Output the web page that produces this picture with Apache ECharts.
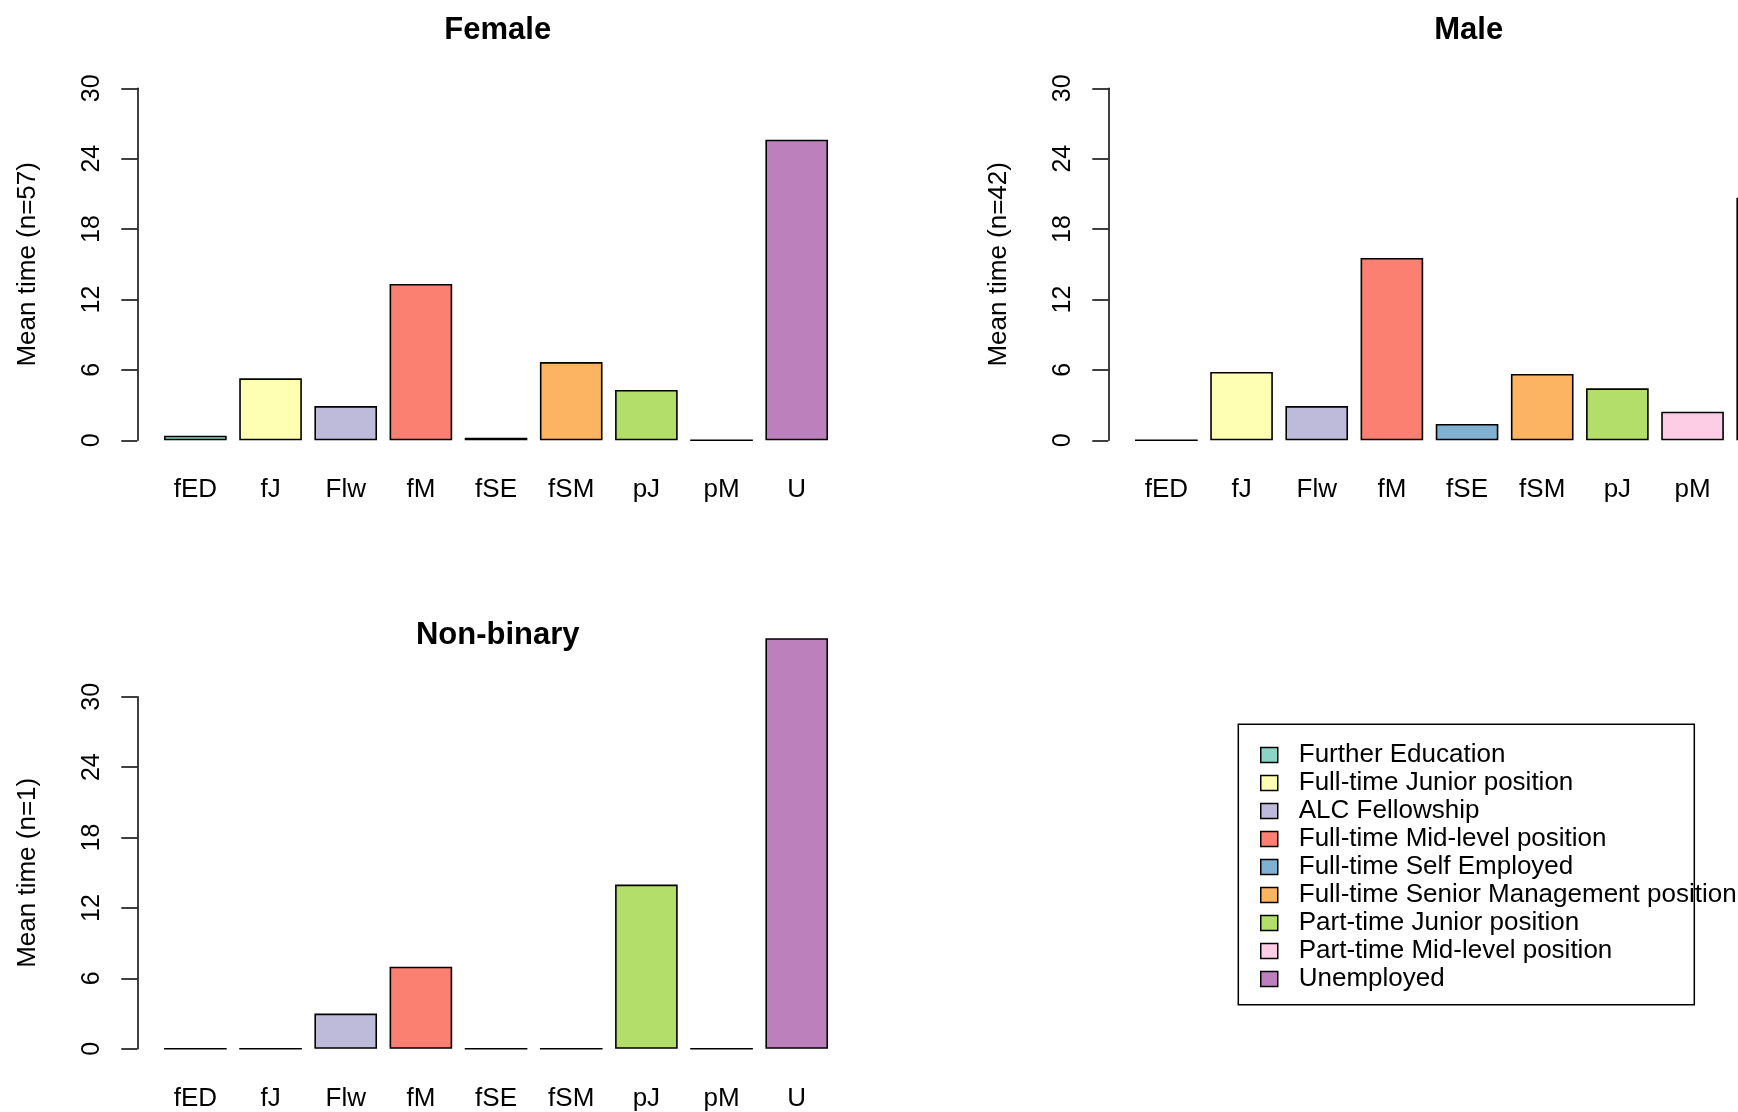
<!DOCTYPE html>
<html>
<head>
<meta charset="utf-8">
<script src="https://cdn.jsdelivr.net/npm/echarts@6/dist/echarts.min.js"></script>
<style>
  html, body { margin: 0; padding: 0; background: #fff; }
  #chart { width: 1738px; height: 1112px; }
</style>
</head>
<body>
<div id="chart"></div>
<script>
// ---- data ----
const categories = ['fED', 'fJ', 'Flw', 'fM', 'fSE', 'fSM', 'pJ', 'pM', 'U'];
const legendNames = [
  'Further Education',
  'Full-time Junior position',
  'ALC Fellowship',
  'Full-time Mid-level position',
  'Full-time Self Employed',
  'Full-time Senior Management position',
  'Part-time Junior position',
  'Part-time Mid-level position',
  'Unemployed'
];
const femaleValues    = [0.39, 5.28, 2.92, 13.32, 0.22, 6.67, 4.29, 0, 25.62];
const maleValues      = [0, 5.82, 2.92, 15.54, 1.39, 5.65, 4.43, 2.44, 20.68];
const nonBinaryValues = [0, 0, 3, 7, 0, 0, 14, 0, 35];
const panelTitles = ['Female', 'Male', 'Non-binary'];
const yAxisTitles = ['Mean time (n=57)', 'Mean time (n=42)', 'Mean time (n=1)'];
const yTickMin = 0, yTickMax = 30, yTickStep = 6;
const barColors = ['#8DD3C7', '#FFFFB3', '#BEBADA', '#FB8072', '#80B1D3', '#FDB462', '#B3DE69', '#FCCDE5', '#BC80BD'];

// ---- layout ----
const FONT = "'Liberation Sans', Arial, sans-serif";
const panelValues = [femaleValues, maleValues, nonBinaryValues];
const grids = [
  { left: 157.8,  top: 88.3,  width: 676.5, height: 352 },
  { left: 1128.8, top: 88.3,  width: 676.5, height: 352 },
  { left: 157.8,  top: 696.8, width: 676.5, height: 352 }
];
const titleCenters = [[497.7, 14.5], [1468.7, 14.5], [497.7, 620]];

const chart = echarts.init(document.getElementById('chart'), null, { renderer: 'canvas' });

const xAxes = grids.map((g, i) => ({
  type: 'category',
  gridIndex: i,
  data: categories,
  axisLine: { show: false },
  axisTick: { show: false },
  axisLabel: {
    color: '#000', fontFamily: FONT, fontSize: 26, lineHeight: 26, margin: 37, interval: 0
  }
}));
const yAxes = grids.map((g, i) => ({
  type: 'value',
  gridIndex: i,
  min: yTickMin, max: yTickMax, interval: yTickStep,
  offset: 20.5,
  name: yAxisTitles[i],
  nameLocation: 'middle',
  nameRotate: 90,
  nameGap: 96,
  nameTextStyle: { color: '#000', fontFamily: FONT, fontSize: 26 },
  axisLine: { show: true, lineStyle: { color: '#000', width: 1.5 } },
  axisTick: { show: true, length: 16, lineStyle: { color: '#000', width: 1.5 } },
  axisLabel: { color: '#000', fontFamily: FONT, fontSize: 25, rotate: 90, margin: 33 },
  splitLine: { show: false }
}));

const series = [];
panelValues.forEach((vals, p) => {
  categories.forEach((cat, c) => {
    series.push({
      type: 'bar',
      name: legendNames[c],
      xAxisIndex: p,
      yAxisIndex: p,
      stack: 'panel' + p,
      barWidth: '83.33%',
      clip: false,
      silent: true,
      itemStyle: { color: barColors[c], borderColor: '#000', borderWidth: 1.6 },
      data: categories.map((_, k) => (k === c ? vals[c] : '-'))
    });
  });
});

const option = {
  animation: false,
  backgroundColor: '#fff',
  title: panelTitles.map((t, i) => ({
    text: t,
    left: titleCenters[i][0],
    top: titleCenters[i][1],
    textAlign: 'center',
    padding: 0,
    textStyle: { color: '#000', fontFamily: FONT, fontSize: 31, fontWeight: 'bold', lineHeight: 31 }
  })),
  grid: grids.map(g => Object.assign({ containLabel: false, outerBoundsMode: 'none' }, g)),
  xAxis: xAxes,
  yAxis: yAxes,
  legend: {
    orient: 'vertical',
    left: 1260,
    top: 741,
    padding: 0,
    itemGap: 0,
    itemWidth: 17,
    itemHeight: 15,
    icon: 'rect',
    selectedMode: false,
    data: legendNames,
    itemStyle: { borderColor: '#000', borderWidth: 1.5 },
    textStyle: { color: '#000', fontFamily: FONT, fontSize: 26, lineHeight: 28, padding: [0, 0, 0, 16] }
  },
  graphic: [{
    type: 'rect',
    shape: { x: 1238.3, y: 724.3, width: 456, height: 280.5 },
    style: { fill: 'none', stroke: '#000', lineWidth: 1.5 },
    z: 100
  }],
  series: series
};
chart.setOption(option);
</script>
</body>
</html>
